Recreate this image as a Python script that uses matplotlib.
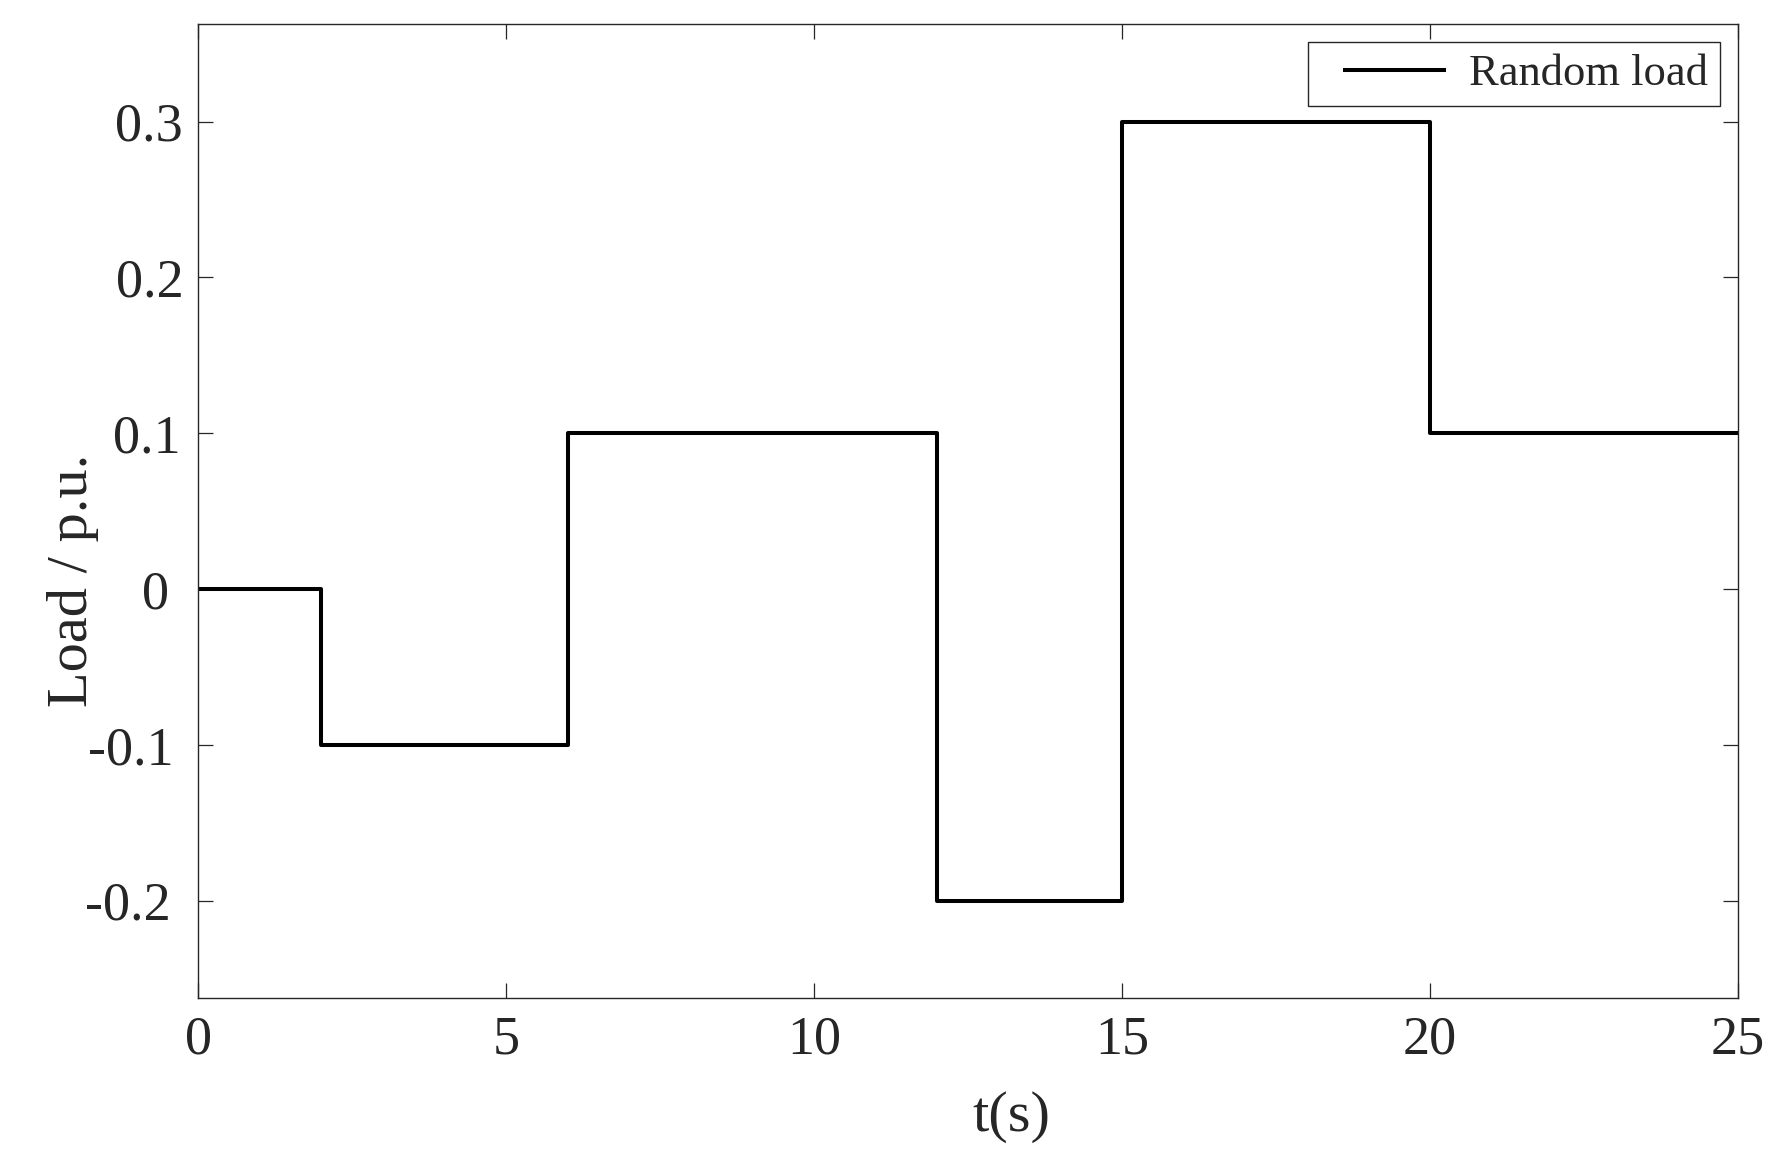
import matplotlib
matplotlib.use('Agg')
import matplotlib.pyplot as plt
from matplotlib.lines import Line2D
from matplotlib.legend_handler import HandlerLine2D
from matplotlib.transforms import ScaledTranslation

# step load profile
t_steps = [0, 2, 6, 12, 15, 20, 25]
load_steps = [0, -0.1, 0.1, -0.2, 0.3, 0.1, 0.1]
x_ticks = [0, 5, 10, 15, 20, 25]
y_ticks = [-0.2, -0.1, 0, 0.1, 0.2, 0.3]
y_tick_labels = ['-0.2', '-0.1', '0', '0.1', '0.2', '0.3']

plt.rcParams['font.family'] = ['Liberation Serif', 'DejaVu Serif']
plt.rcParams['text.color'] = '#262626'

fig = plt.figure(figsize=(17.79, 11.57), dpi=100)
ax = fig.add_axes([0.1113, 0.1374, 0.8657, 0.8416])

ax.step(t_steps, load_steps, where='post', color='black', linewidth=2.9,
        label='Random load')

ax.set_xlim(0, 25)
ax.set_ylim(-0.2625, 0.3625)
ax.set_xticks(x_ticks)
ax.set_yticks(y_ticks)
ax.set_yticklabels(y_tick_labels)

ax.tick_params(direction='in', length=11, width=0.9, top=True, right=True,
               labelsize=39, colors='#262626')
ax.tick_params(axis='x', pad=12)
ax.tick_params(axis='y', pad=10)
for s in ax.spines.values():
    s.set_linewidth(1.0)
    s.set_color('#262626')

# the y tick labels in the original are not quite right-aligned
shift_px = [13, 10, 15, 3, 0, 1]
for lab, dx in zip(ax.get_yticklabels(), shift_px):
    lab.set_transform(lab.get_transform()
                      + ScaledTranslation(-dx / 100, 0, fig.dpi_scale_trans))

ax.set_xlabel('t(s)', fontsize=42, color='#262626')
ax.set_ylabel('Load / p.u.', fontsize=42, color='#262626')
ax.xaxis.set_label_coords(0.528, -0.095)
ax.yaxis.set_label_coords(-0.064, 0.429)

leg = ax.legend(loc='upper right', fontsize=32, fancybox=False,
                edgecolor='#262626', framealpha=1, handlelength=2.8,
                borderaxespad=0.4, borderpad=0.27, handletextpad=0.56,
                handler_map={Line2D: HandlerLine2D(xpad=0.56)})
leg.get_frame().set_linewidth(1.0)

fig.savefig('out.png', dpi=100)
